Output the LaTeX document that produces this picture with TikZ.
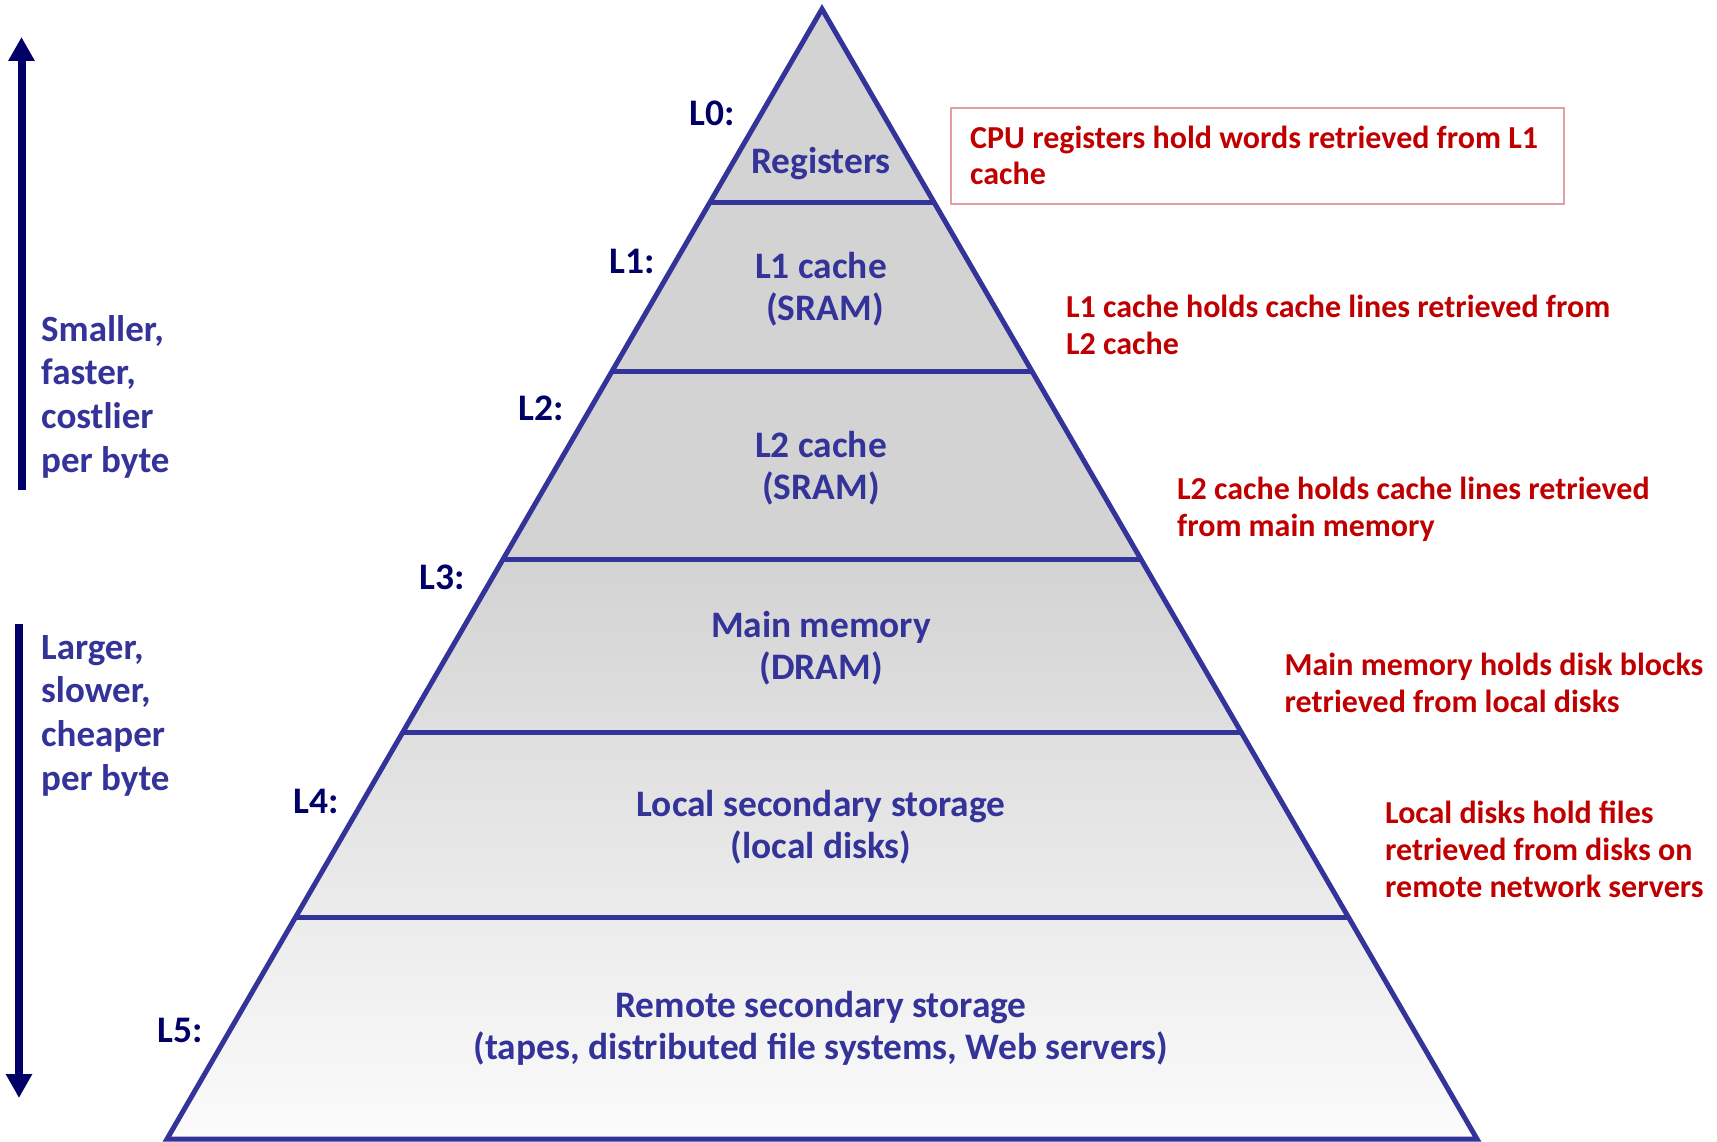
\documentclass[tikz,border=0pt]{standalone}
\usepackage{fontspec}
\setmainfont{Carlito}
\usetikzlibrary{calc,arrows.meta}
\definecolor{pyrblue}{RGB}{51,51,153}
\definecolor{navyblue}{RGB}{0,0,102}
\definecolor{darkred}{RGB}{192,0,0}
\definecolor{boxred}{RGB}{228,160,160}
\definecolor{pyrgray}{RGB}{211,211,211}
\definecolor{pyrlight}{RGB}{251,251,251}
\begin{document}
\begin{tikzpicture}[x=1pt,y=-1pt,
  lvl/.style={font=\fontsize{37.5}{42}\selectfont\bfseries, text=navyblue, inner sep=0pt, anchor=base},
  tier/.style={font=\fontsize{37.4}{42}\selectfont\bfseries, text=pyrblue, inner sep=0pt, anchor=base, align=center},
  note/.style={font=\fontsize{32}{36.8}\selectfont\bfseries, text=darkred, inner sep=0pt, anchor=base west, align=left},
  side/.style={font=\fontsize{37}{43.6}\selectfont\bfseries, text=pyrblue, inner sep=0pt, anchor=base west, align=left},
  pyrline/.style={draw=pyrblue, line width=5pt},
  bigarrow/.style={draw=navyblue, line width=8pt, -{Triangle[length=24pt,width=25pt]}},
  notebox/.style={draw=boxred, line width=2pt, inner sep=0pt, anchor=north west}
]
\useasboundingbox (0,0) rectangle (1717,1142);

% pyramid corners
\coordinate (A) at (822,9);
\coordinate (BL) at (167,1139);
\coordinate (BR) at (1477,1139);

% fill
\fill[pyrgray] (A) -- (BR) -- (BL) -- cycle;
\begin{scope}
  \clip (A) -- (BR) -- (BL) -- cycle;
  \shade[top color=pyrgray, bottom color=pyrlight] (0,560) rectangle (1717,1139);
\end{scope}

% separators
\foreach \f/\n in {0.1708/1,0.3212/2,0.4876/3,0.6407/4,0.8044/5}{
  \coordinate (sl\n) at ($(A)!\f!(BL)$);
  \coordinate (sr\n) at ($(A)!\f!(BR)$);
  \draw[pyrline] (sl\n) -- (sr\n);
}
\draw[pyrline, line join=miter] (A) -- (BR) -- (BL) -- cycle;

% tier texts (anchor = baseline of last line)
\node[tier] (reg) at (821,174) {Registers};
\node[tier] (l1c) at (821,320) {L1 cache\\\hspace*{8pt}(SRAM)};
\node[tier] (l2c) at (821,499) {L2 cache\\(SRAM)};
\node[tier] (mm)  at (821,679) {Main memory\\(DRAM)};
\node[tier] (lss) at (821,858) {Local secondary storage\\(local disks)};
\node[tier] (rss) at (821,1059) {Remote secondary storage\\(tapes, distributed file systems, Web servers)};

% level labels
\node[lvl] (L0) at (712,126) {L0:};
\node[lvl] (L1) at (632,273) {L1:};
\node[lvl] (L2) at (541,420) {L2:};
\node[lvl] (L3) at (442,589) {L3:};
\node[lvl] (L4) at (316,813) {L4:};
\node[lvl] (L5) at (180,1042) {L5:};

% side texts and arrows
\node[side] (up) at (41,472) {Smaller,\\faster,\\costlier\\per byte};
\node[side] (down) at (41,790) {Larger,\\slower,\\cheaper\\per byte};
\coordinate (upS) at (21.5,490);
\coordinate (upE) at (21.5,37);
\coordinate (dnS) at (19,624);
\coordinate (dnE) at (19,1098);
\draw[bigarrow] (upS) -- (upE);
\draw[bigarrow] (dnS) -- (dnE);

% notes
\node[notebox, minimum width=613pt, minimum height=96pt] (cpubox) at (950,107) {};
\node[note] (n0) at (970,185) {CPU registers hold words retrieved from L1\\cache};
\node[note] (n1) at (1066,354) {L1 cache holds cache lines retrieved from\\L2 cache};
\node[note] (n2) at (1177,536) {L2 cache holds cache lines retrieved\\from main memory};
\node[note] (n3) at (1284.5,712) {Main memory holds disk blocks\\retrieved from local disks};
\node[note] (n4) at (1385,897) {Local disks hold files\\retrieved from disks on\\remote network servers};
\end{tikzpicture}
\end{document}
